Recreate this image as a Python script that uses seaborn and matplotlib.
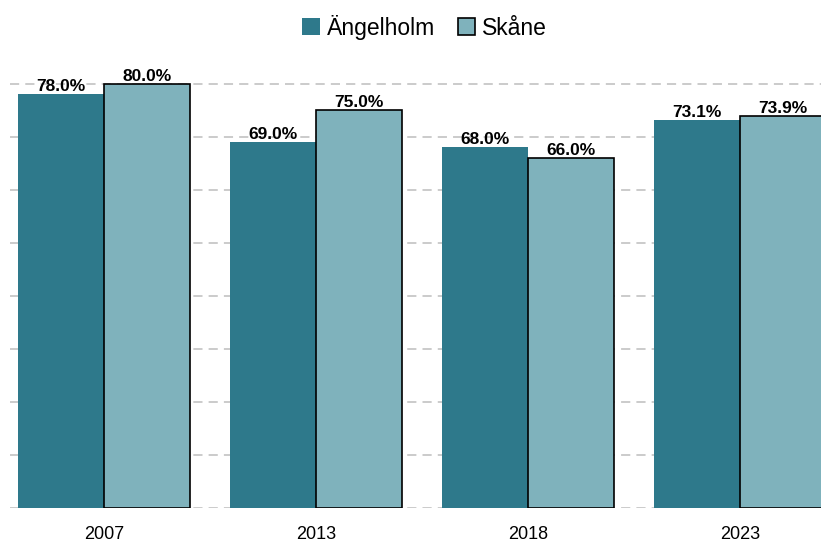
import pandas as pd
import matplotlib.pyplot as plt
import seaborn as sns
from matplotlib.patches import Patch

years = ["2007", "2013", "2018", "2023"]
angelholm = [78.0, 69.0, 68.0, 73.1]
skane = [80.0, 75.0, 66.0, 73.9]
series = ["Ängelholm", "Skåne"]
colors = ["#2e798b", "#7fb2bc"]

data = pd.DataFrame({
    "year": years * 2,
    "value": angelholm + skane,
    "region": [series[0]] * 4 + [series[1]] * 4,
})

sns.set_style("white")
plt.rcParams["font.family"] = ["Liberation Sans", "DejaVu Sans"]
plt.rcParams["text.color"] = "black"
plt.rcParams["xtick.color"] = "black"

fig = plt.figure(figsize=(8.21, 5.44), dpi=100)
ax = fig.add_axes([10 / 821, 36 / 544, 1 - 10 / 821, 448 / 544])

sns.barplot(data=data, x="year", y="value", hue="region", palette=colors,
            width=0.81, saturation=1, ax=ax, legend=False, zorder=3)

for cont, name in zip(ax.containers, series):
    for p in cont:
        if name == "Skåne":
            p.set_edgecolor("black")
            p.set_linewidth(1.2)
        else:
            p.set_edgecolor("none")
    ax.bar_label(cont, fmt="%.1f%%", padding=0, fontsize=12.5,
                 fontweight="bold", color="black")

ax.set_xlim(-0.443, 3.38)
ax.set_ylim(0, 84.5)
ax.set_yticks(range(0, 81, 10))
ax.set_yticklabels([])
ax.yaxis.grid(True, linestyle=(0, (6, 4)), color="#bdbdbd", linewidth=1.1)
ax.set_axisbelow(True)
ax.tick_params(axis="x", labelsize=13, length=0, pad=13)
ax.tick_params(axis="y", length=0)
ax.set_xlabel("")
ax.set_ylabel("")
sns.despine(ax=ax, left=True, bottom=True)

handles = [Patch(facecolor=colors[0], edgecolor="none"),
           Patch(facecolor=colors[1], edgecolor="black", linewidth=1.2)]
fig.legend(handles, series, loc="center", bbox_to_anchor=(0.517, 0.95), ncol=2,
           frameon=False, fontsize=16.5, handlelength=0.75, handleheight=0.75,
           handletextpad=0.3, columnspacing=1.0)

fig.savefig("out.png", dpi=100)
